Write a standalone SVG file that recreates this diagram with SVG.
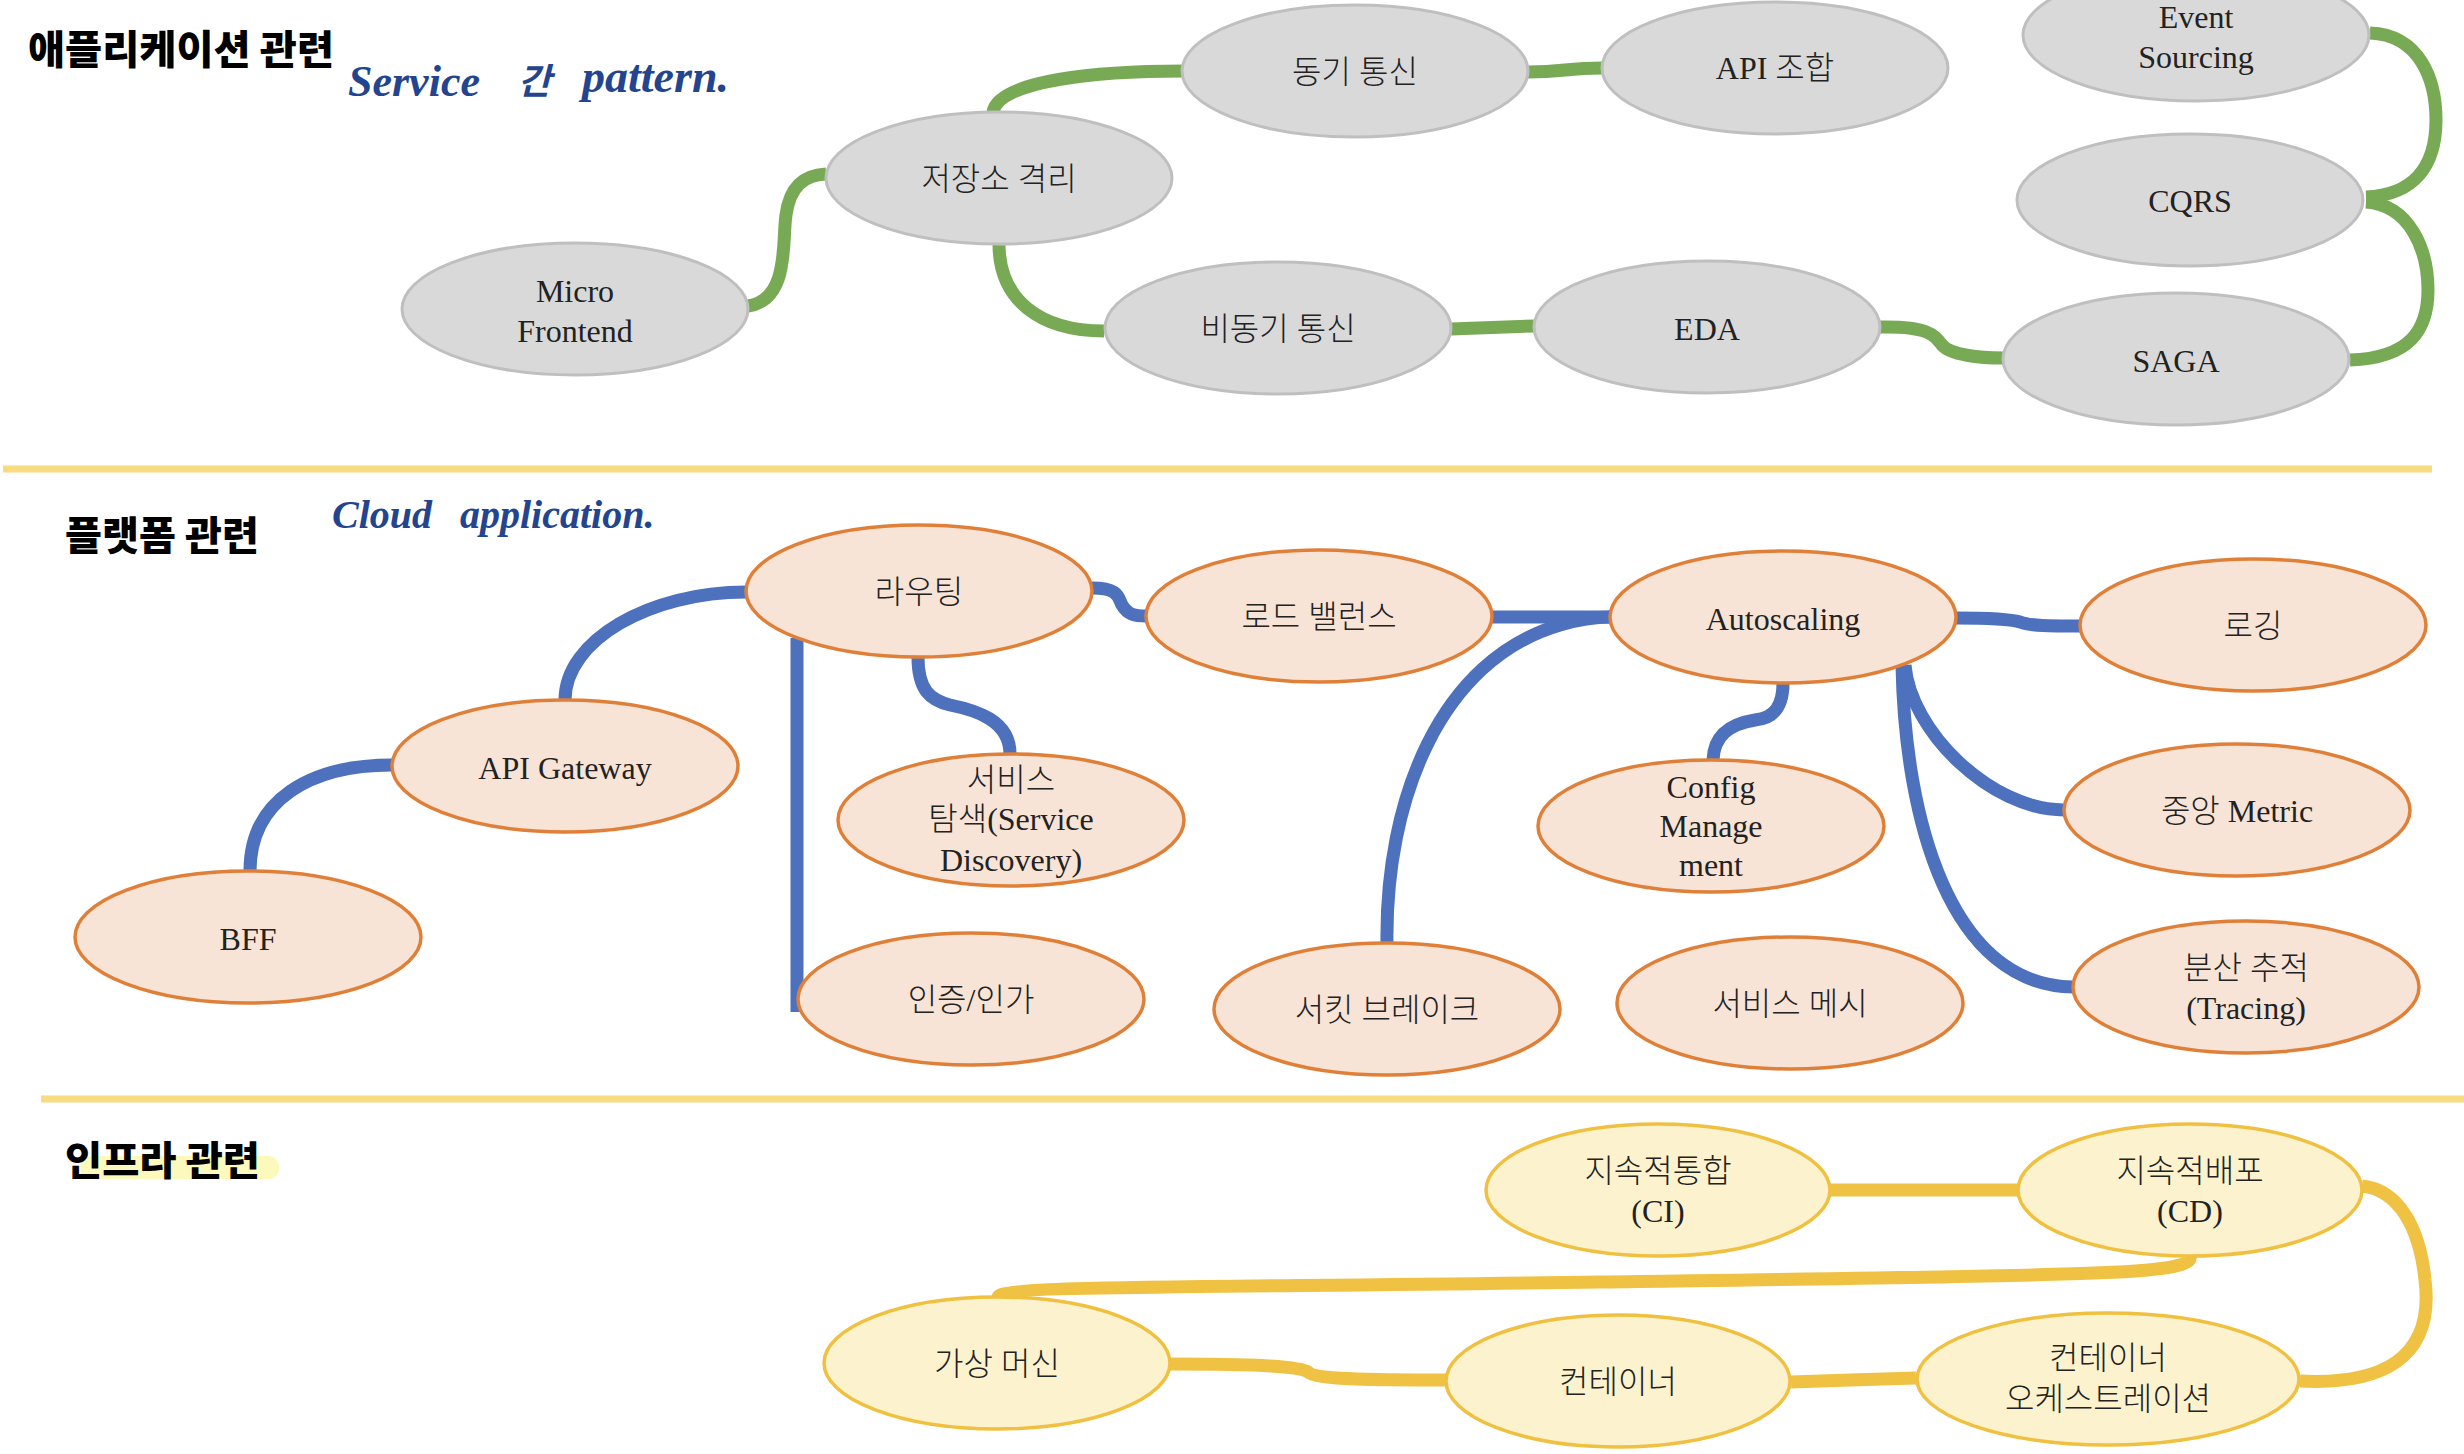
<svg xmlns="http://www.w3.org/2000/svg" width="2464" height="1454" viewBox="0 0 2464 1454">
<style>
.n1 ellipse{fill:#d9d9d9;stroke:#bfbfbf;stroke-width:3}
.n2 ellipse{fill:#f7e4d6;stroke:#e08038;stroke-width:3.5}
.n3 ellipse{fill:#fcf2cd;stroke:#f0c040;stroke-width:3.5}
text.t{font-family:'Liberation Serif','Noto Sans CJK KR',serif;font-size:32px;fill:#222;text-anchor:middle;font-weight:300}
.title{font-family:'Noto Sans CJK KR',sans-serif;font-weight:900;font-size:40px;fill:#000}
.hand{font-family:'Liberation Serif','Noto Sans CJK KR',serif;font-style:italic;font-weight:bold;fill:#23448e}
.g path{fill:none;stroke:#78aa55;stroke-width:13}
.b path{fill:none;stroke:#4e71be;stroke-width:13}
.y path{fill:none;stroke:#f0c244;stroke-width:13}
.div{stroke:#f8da80;stroke-width:7}
</style>
<rect width="2464" height="1454" fill="#fff"/>
<g id="dividers">
<line class="div" x1="3" y1="469" x2="2432" y2="469"/>
<line class="div" x1="41" y1="1099" x2="2464" y2="1099"/>
</g>
<g id="titles">
<text class="title" x="28" y="64" textLength="306" lengthAdjust="spacingAndGlyphs">애플리케이션 관련</text>
<text class="title" x="65" y="550" textLength="194" lengthAdjust="spacingAndGlyphs">플랫폼 관련</text>
<rect x="80" y="1156" width="199" height="23" rx="10" fill="#fcf9bd"/>
<text class="title" x="65" y="1175" textLength="195" lengthAdjust="spacingAndGlyphs">인프라 관련</text>
<text class="hand" font-size="44" x="348" y="96">Service</text>
<text class="hand" font-size="36" x="518" y="94">간</text>
<text class="hand" font-size="46" x="582" y="92">pattern.</text>
<text class="hand" font-size="40" x="332" y="528">Cloud</text>
<text class="hand" font-size="40" x="460" y="528">application.</text>
</g>
<g id="connectors">
<g class="g">
<path d="M748,306 C790,300 782,240 786,215 C790,185 805,175 826,174"/>
<path d="M993,112 C998,80 1100,71 1183,71"/>
<path d="M1528,72 C1565,72 1565,68 1602,68"/>
<path d="M999,244 C999,300 1040,331 1104,331"/>
<path d="M1451,329 L1534,326"/>
<path d="M1880,327 C1930,326 1935,336 1942,345 C1950,355 1980,358 2003,358"/>
<path d="M2370,33 C2420,35 2436,80 2436,120 C2436,165 2415,195 2366,197"/>
<path d="M2366,202 C2410,205 2428,250 2428,290 C2428,330 2410,358 2350,360"/>
</g>
<g class="b">
<path d="M250,871 C250,800 310,765 392,765"/>
<path d="M565,700 C565,640 650,592 746,592"/>
<path d="M797,638 L797,1012"/>
<path d="M918,657 C918,690 930,700 950,705 C975,710 1010,720 1010,754"/>
<path d="M1092,588 C1120,588 1118,598 1122,605 C1128,615 1135,616 1146,616"/>
<path d="M1492,617 L1611,617"/>
<path d="M1387,943 C1385,800 1440,660 1560,625 C1580,619 1595,617 1611,617"/>
<path d="M1955,618 C1990,618 2010,619 2020,622 C2030,626 2050,626 2081,626"/>
<path d="M1783,683 C1783,705 1775,718 1755,720 C1730,724 1714,735 1713,760"/>
<path d="M1905,665 C1910,730 1990,810 2064,810"/>
<path d="M1902,665 C1905,820 1950,985 2073,987"/>
</g>
<g class="y">
<path d="M1830,1190 L2018,1190"/>
<path d="M2362,1186 C2400,1190 2420,1230 2425,1280 C2435,1360 2380,1385 2300,1381"/>
<path d="M2190,1256 C2195,1275 2100,1275 1600,1282 C1200,1288 1000,1285 998,1297" stroke-width="14"/>
<path d="M1170,1364 C1250,1364 1300,1366 1308,1372 C1315,1380 1380,1380 1446,1380"/>
<path d="M1791,1382 L1850,1380 L1916,1378"/>
</g>
</g>
<g id="mf" class="n1"><ellipse cx="575" cy="309" rx="173" ry="66"/><text class="t" x="575" y="302">Micro</text><text class="t" x="575" y="342">Frontend</text></g>
<g id="storage" class="n1"><ellipse cx="999" cy="178" rx="173" ry="66"/><text class="t" x="999" y="190">저장소 격리</text></g>
<g id="sync" class="n1"><ellipse cx="1355" cy="71" rx="173" ry="66"/><text class="t" x="1355" y="83">동기 통신</text></g>
<g id="apicomp" class="n1"><ellipse cx="1775" cy="68" rx="173" ry="66"/><text class="t" x="1775" y="79">API 조합</text></g>
<g id="es" class="n1"><ellipse cx="2196" cy="35" rx="173" ry="66"/><text class="t" x="2196" y="28">Event</text><text class="t" x="2196" y="68">Sourcing</text></g>
<g id="cqrs" class="n1"><ellipse cx="2190" cy="200" rx="173" ry="66"/><text class="t" x="2190" y="212">CQRS</text></g>
<g id="saga" class="n1"><ellipse cx="2176" cy="359" rx="173" ry="66"/><text class="t" x="2176" y="372">SAGA</text></g>
<g id="eda" class="n1"><ellipse cx="1707" cy="327" rx="173" ry="66"/><text class="t" x="1707" y="340">EDA</text></g>
<g id="async" class="n1"><ellipse cx="1278" cy="328" rx="173" ry="66"/><text class="t" x="1278" y="340">비동기 통신</text></g>

<g id="bff" class="n2"><ellipse cx="248" cy="937" rx="173" ry="66"/><text class="t" x="248" y="950">BFF</text></g>
<g id="apigw" class="n2"><ellipse cx="565" cy="766" rx="173" ry="66"/><text class="t" x="565" y="779">API Gateway</text></g>
<g id="routing" class="n2"><ellipse cx="919" cy="591" rx="173" ry="66"/><text class="t" x="919" y="603">라우팅</text></g>
<g id="lb" class="n2"><ellipse cx="1319" cy="616" rx="173" ry="66"/><text class="t" x="1319" y="628">로드 밸런스</text></g>
<g id="sd" class="n2"><ellipse cx="1011" cy="820" rx="173" ry="66"/><text class="t" x="1011" y="791">서비스</text><text class="t" x="1011" y="830">탐색(Service</text><text class="t" x="1011" y="871">Discovery)</text></g>
<g id="auth" class="n2"><ellipse cx="971" cy="999" rx="173" ry="66"/><text class="t" x="971" y="1011">인증/인가</text></g>
<g id="cb" class="n2"><ellipse cx="1387" cy="1009" rx="173" ry="66"/><text class="t" x="1387" y="1021">서킷 브레이크</text></g>
<g id="autos" class="n2"><ellipse cx="1783" cy="617" rx="173" ry="66"/><text class="t" x="1783" y="630">Autoscaling</text></g>
<g id="logging" class="n2"><ellipse cx="2253" cy="625" rx="173" ry="66"/><text class="t" x="2253" y="637">로깅</text></g>
<g id="config" class="n2"><ellipse cx="1711" cy="826" rx="173" ry="66"/><text class="t" x="1711" y="798">Config</text><text class="t" x="1711" y="837">Manage</text><text class="t" x="1711" y="876">ment</text></g>
<g id="metric" class="n2"><ellipse cx="2237" cy="810" rx="173" ry="66"/><text class="t" x="2237" y="822">중앙 Metric</text></g>
<g id="mesh" class="n2"><ellipse cx="1790" cy="1003" rx="173" ry="66"/><text class="t" x="1790" y="1015">서비스 메시</text></g>
<g id="tracing" class="n2"><ellipse cx="2246" cy="987" rx="173" ry="66"/><text class="t" x="2246" y="979">분산 추적</text><text class="t" x="2246" y="1019">(Tracing)</text></g>

<g id="ci" class="n3"><ellipse cx="1658" cy="1190" rx="172" ry="66"/><text class="t" x="1658" y="1182">지속적통합</text><text class="t" x="1658" y="1222">(CI)</text></g>
<g id="cd" class="n3"><ellipse cx="2190" cy="1190" rx="172" ry="66"/><text class="t" x="2190" y="1182">지속적배포</text><text class="t" x="2190" y="1222">(CD)</text></g>
<g id="vm" class="n3"><ellipse cx="997" cy="1363" rx="173" ry="66"/><text class="t" x="997" y="1375">가상 머신</text></g>
<g id="container" class="n3"><ellipse cx="1618" cy="1381" rx="172" ry="66"/><text class="t" x="1618" y="1393">컨테이너</text></g>
<g id="orch" class="n3"><ellipse cx="2108" cy="1379" rx="191" ry="66"/><text class="t" x="2108" y="1369">컨테이너</text><text class="t" x="2108" y="1410">오케스트레이션</text></g>
</svg>
